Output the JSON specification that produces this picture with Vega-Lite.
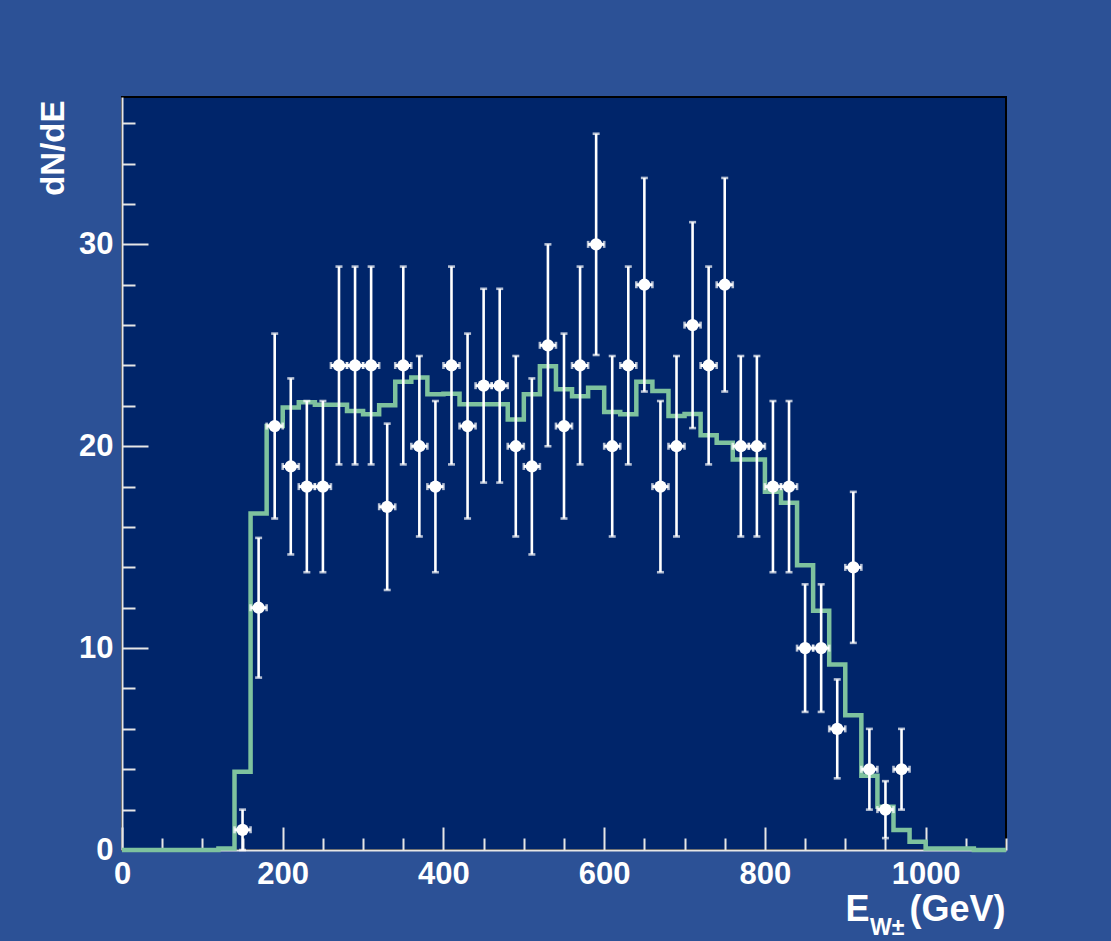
{
  "$schema": "https://vega.github.io/schema/vega-lite/v6.json",
  "width": 884,
  "height": 753,
  "autosize": "none",
  "padding": {"left": 122, "top": 97, "right": 105, "bottom": 91},
  "background": "#2c5196",
  "title": {
    "text": "W±",
    "orient": "bottom",
    "anchor": "end",
    "frame": "group",
    "align": "left",
    "baseline": "alphabetic",
    "dx": -136,
    "dy": 4,
    "fontSize": 23,
    "fontWeight": "bold",
    "font": "Liberation Sans",
    "color": "white"
  },
  "datasets": {
    "mc": [
      {"edge": 0, "value": 0},
      {"edge": 120, "value": 0.08},
      {"edge": 140, "value": 3.88},
      {"edge": 160, "value": 16.67},
      {"edge": 180, "value": 21.0},
      {"edge": 200, "value": 21.92},
      {"edge": 220, "value": 22.18},
      {"edge": 240, "value": 22.05},
      {"edge": 260, "value": 22.05},
      {"edge": 280, "value": 21.75},
      {"edge": 300, "value": 21.58},
      {"edge": 320, "value": 22.03},
      {"edge": 340, "value": 23.2},
      {"edge": 360, "value": 23.4},
      {"edge": 380, "value": 22.57},
      {"edge": 400, "value": 22.6},
      {"edge": 420, "value": 22.08},
      {"edge": 440, "value": 22.08},
      {"edge": 460, "value": 22.08},
      {"edge": 480, "value": 21.32},
      {"edge": 500, "value": 22.57},
      {"edge": 520, "value": 23.96},
      {"edge": 540, "value": 22.82},
      {"edge": 560, "value": 22.48},
      {"edge": 580, "value": 22.9},
      {"edge": 600, "value": 21.7},
      {"edge": 620, "value": 21.58},
      {"edge": 640, "value": 23.2},
      {"edge": 660, "value": 22.74},
      {"edge": 680, "value": 21.5},
      {"edge": 700, "value": 21.6},
      {"edge": 720, "value": 20.54},
      {"edge": 740, "value": 20.17},
      {"edge": 760, "value": 19.34},
      {"edge": 780, "value": 19.34},
      {"edge": 800, "value": 17.74},
      {"edge": 820, "value": 17.2},
      {"edge": 840, "value": 14.1},
      {"edge": 860, "value": 11.85},
      {"edge": 880, "value": 9.19},
      {"edge": 900, "value": 6.68},
      {"edge": 920, "value": 3.68},
      {"edge": 940, "value": 2.14},
      {"edge": 960, "value": 0.99},
      {"edge": 980, "value": 0.41},
      {"edge": 1000, "value": 0.08},
      {"edge": 1020, "value": 0.08},
      {"edge": 1040, "value": 0.08},
      {"edge": 1060, "value": 0},
      {"edge": 1080, "value": 0},
      {"edge": 1100, "value": 0}
    ],
    "points": [
      {"e": 150, "n": 1, "lo": 0, "hi": 2, "elo": 140, "ehi": 160},
      {"e": 170, "n": 12, "lo": 8.54, "hi": 15.46, "elo": 160, "ehi": 180},
      {"e": 190, "n": 21, "lo": 16.42, "hi": 25.58, "elo": 180, "ehi": 200},
      {"e": 210, "n": 19, "lo": 14.64, "hi": 23.36, "elo": 200, "ehi": 220},
      {"e": 230, "n": 18, "lo": 13.76, "hi": 22.24, "elo": 220, "ehi": 240},
      {"e": 250, "n": 18, "lo": 13.76, "hi": 22.24, "elo": 240, "ehi": 260},
      {"e": 270, "n": 24, "lo": 19.1, "hi": 28.9, "elo": 260, "ehi": 280},
      {"e": 290, "n": 24, "lo": 19.1, "hi": 28.9, "elo": 280, "ehi": 300},
      {"e": 310, "n": 24, "lo": 19.1, "hi": 28.9, "elo": 300, "ehi": 320},
      {"e": 330, "n": 17, "lo": 12.88, "hi": 21.12, "elo": 320, "ehi": 340},
      {"e": 350, "n": 24, "lo": 19.1, "hi": 28.9, "elo": 340, "ehi": 360},
      {"e": 370, "n": 20, "lo": 15.53, "hi": 24.47, "elo": 360, "ehi": 380},
      {"e": 390, "n": 18, "lo": 13.76, "hi": 22.24, "elo": 380, "ehi": 400},
      {"e": 410, "n": 24, "lo": 19.1, "hi": 28.9, "elo": 400, "ehi": 420},
      {"e": 430, "n": 21, "lo": 16.42, "hi": 25.58, "elo": 420, "ehi": 440},
      {"e": 450, "n": 23, "lo": 18.2, "hi": 27.8, "elo": 440, "ehi": 460},
      {"e": 470, "n": 23, "lo": 18.2, "hi": 27.8, "elo": 460, "ehi": 480},
      {"e": 490, "n": 20, "lo": 15.53, "hi": 24.47, "elo": 480, "ehi": 500},
      {"e": 510, "n": 19, "lo": 14.64, "hi": 23.36, "elo": 500, "ehi": 520},
      {"e": 530, "n": 25, "lo": 20, "hi": 30, "elo": 520, "ehi": 540},
      {"e": 550, "n": 21, "lo": 16.42, "hi": 25.58, "elo": 540, "ehi": 560},
      {"e": 570, "n": 24, "lo": 19.1, "hi": 28.9, "elo": 560, "ehi": 580},
      {"e": 590, "n": 30, "lo": 24.52, "hi": 35.48, "elo": 580, "ehi": 600},
      {"e": 610, "n": 20, "lo": 15.53, "hi": 24.47, "elo": 600, "ehi": 620},
      {"e": 630, "n": 24, "lo": 19.1, "hi": 28.9, "elo": 620, "ehi": 640},
      {"e": 650, "n": 28, "lo": 22.71, "hi": 33.29, "elo": 640, "ehi": 660},
      {"e": 670, "n": 18, "lo": 13.76, "hi": 22.24, "elo": 660, "ehi": 680},
      {"e": 690, "n": 20, "lo": 15.53, "hi": 24.47, "elo": 680, "ehi": 700},
      {"e": 710, "n": 26, "lo": 20.9, "hi": 31.1, "elo": 700, "ehi": 720},
      {"e": 730, "n": 24, "lo": 19.1, "hi": 28.9, "elo": 720, "ehi": 740},
      {"e": 750, "n": 28, "lo": 22.71, "hi": 33.29, "elo": 740, "ehi": 760},
      {"e": 770, "n": 20, "lo": 15.53, "hi": 24.47, "elo": 760, "ehi": 780},
      {"e": 790, "n": 20, "lo": 15.53, "hi": 24.47, "elo": 780, "ehi": 800},
      {"e": 810, "n": 18, "lo": 13.76, "hi": 22.24, "elo": 800, "ehi": 820},
      {"e": 830, "n": 18, "lo": 13.76, "hi": 22.24, "elo": 820, "ehi": 840},
      {"e": 850, "n": 10, "lo": 6.84, "hi": 13.16, "elo": 840, "ehi": 860},
      {"e": 870, "n": 10, "lo": 6.84, "hi": 13.16, "elo": 860, "ehi": 880},
      {"e": 890, "n": 6, "lo": 3.55, "hi": 8.45, "elo": 880, "ehi": 900},
      {"e": 910, "n": 14, "lo": 10.26, "hi": 17.74, "elo": 900, "ehi": 920},
      {"e": 930, "n": 4, "lo": 2, "hi": 6, "elo": 920, "ehi": 940},
      {"e": 950, "n": 2, "lo": 0.59, "hi": 3.41, "elo": 940, "ehi": 960},
      {"e": 970, "n": 4, "lo": 2, "hi": 6, "elo": 960, "ehi": 980}
    ]
  },
  "layer": [
    {
      "data": {"name": "mc"},
      "mark": {"type": "line", "interpolate": "step-after", "color": "#7ec29e", "strokeWidth": 4.5},
      "encoding": {
        "x": {
          "field": "edge",
          "type": "quantitative",
          "scale": {"domain": [0, 1100], "nice": false, "zero": false},
          "axis": {
            "values": [0, 50, 100, 150, 200, 250, 300, 350, 400, 450, 500, 550, 600, 650, 700, 750, 800, 850, 900, 950, 1000, 1050, 1100],
            "labelExpr": "datum.value % 200 === 0 ? datum.label : ''",
            "format": "d",
            "tickSize": {"condition": {"test": "datum.value % 200 === 0", "value": -23}, "value": -12},
            "tickColor": "#e6e6e6",
            "tickWidth": 2,
            "domainColor": "#e6e6e6",
            "domainWidth": 2,
            "grid": false,
            "labelColor": "white",
            "labelFont": "Liberation Sans",
            "labelFontSize": 31,
            "labelFontWeight": "bold",
            "labelPadding": 32,
            "labelFlush": false,
            "labelOverlap": false,
            "title": "E\u00a0\u00a0\u00a0\u00a0(GeV)",
            "titleX": 883,
            "titleY": 70,
            "titleAlign": "right",
            "titleBaseline": "alphabetic",
            "titleFont": "Liberation Sans",
            "titleFontSize": 36,
            "titleFontWeight": "bold",
            "titleColor": "white"
          }
        },
        "y": {
          "field": "value",
          "type": "quantitative",
          "scale": {"domain": [0, 37.3], "nice": false},
          "axis": {
            "values": [0, 2, 4, 6, 8, 10, 12, 14, 16, 18, 20, 22, 24, 26, 28, 30, 32, 34, 36],
            "labelExpr": "datum.value % 10 === 0 ? datum.label : ''",
            "format": "d",
            "tickSize": {"condition": {"test": "datum.value % 10 === 0", "value": -26}, "value": -13},
            "tickColor": "#e6e6e6",
            "tickWidth": 2,
            "domainColor": "#e6e6e6",
            "domainWidth": 2,
            "grid": false,
            "labelColor": "white",
            "labelFont": "Liberation Sans",
            "labelFontSize": 31,
            "labelFontWeight": "bold",
            "labelPadding": 35,
            "labelOverlap": false,
            "title": "dN/dE",
            "titleAngle": -90,
            "titleX": -59,
            "titleY": 3,
            "titleAlign": "right",
            "titleBaseline": "alphabetic",
            "titleFont": "Liberation Sans",
            "titleFontSize": 33,
            "titleFontWeight": "bold",
            "titleColor": "white"
          }
        }
      }
    },
    {
      "data": {"name": "points"},
      "mark": {"type": "rule", "color": "white", "strokeWidth": 2.6},
      "encoding": {
        "x": {"field": "e", "type": "quantitative"},
        "y": {"field": "lo", "type": "quantitative"},
        "y2": {"field": "hi"}
      }
    },
    {
      "data": {"name": "points"},
      "mark": {"type": "tick", "orient": "horizontal", "color": "white", "size": 7, "thickness": 2.6},
      "encoding": {
        "x": {"field": "e", "type": "quantitative"},
        "y": {"field": "lo", "type": "quantitative"}
      }
    },
    {
      "data": {"name": "points"},
      "mark": {"type": "tick", "orient": "horizontal", "color": "white", "size": 7, "thickness": 2.6},
      "encoding": {
        "x": {"field": "e", "type": "quantitative"},
        "y": {"field": "hi", "type": "quantitative"}
      }
    },
    {
      "data": {"name": "points"},
      "mark": {"type": "rule", "color": "white", "strokeWidth": 3},
      "encoding": {
        "x": {"field": "elo", "type": "quantitative"},
        "x2": {"field": "ehi"},
        "y": {"field": "n", "type": "quantitative"}
      }
    },
    {
      "data": {"name": "points"},
      "mark": {"type": "tick", "orient": "vertical", "color": "white", "size": 7, "thickness": 2.6},
      "encoding": {
        "x": {"field": "elo", "type": "quantitative"},
        "y": {"field": "n", "type": "quantitative"}
      }
    },
    {
      "data": {"name": "points"},
      "mark": {"type": "tick", "orient": "vertical", "color": "white", "size": 7, "thickness": 2.6},
      "encoding": {
        "x": {"field": "ehi", "type": "quantitative"},
        "y": {"field": "n", "type": "quantitative"}
      }
    },
    {
      "data": {"name": "points"},
      "mark": {"type": "point", "shape": "circle", "filled": true, "color": "white", "opacity": 1, "size": 150},
      "encoding": {
        "x": {"field": "e", "type": "quantitative"},
        "y": {"field": "n", "type": "quantitative"}
      }
    }
  ],
  "config": {
    "view": {"fill": "#00256a", "stroke": "#000000", "strokeWidth": 2},
    "font": "Liberation Sans"
  }
}
